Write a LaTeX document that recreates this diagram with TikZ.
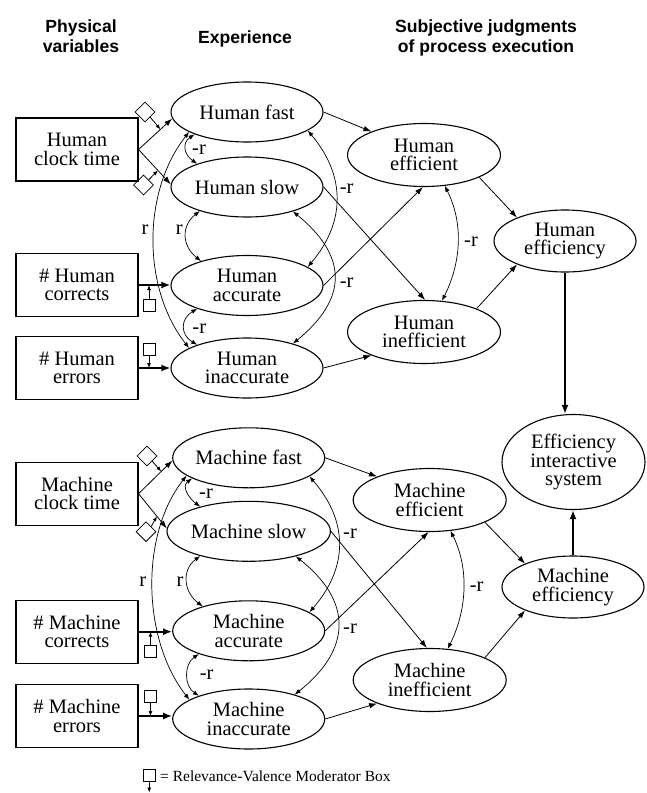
\documentclass[tikz,border=0pt]{standalone}
\usepackage{fontspec}
\setmainfont{Liberation Serif}
\newfontfamily\hdrfont{Liberation Sans}
\usetikzlibrary{shapes.geometric,arrows.meta,calc}
\tikzset{
 nf/.style={font=\fontsize{20.5}{18.5}\selectfont},
 ell/.style={draw, ellipse, line width=1.1pt, inner sep=0pt, align=center, nf},
 expn/.style={ell, minimum width=152pt, minimum height=60pt},
 subj/.style={ell, minimum width=153pt, minimum height=63pt},
 effn/.style={ell, minimum width=142pt, minimum height=62pt},
 pbox/.style={draw, rectangle, line width=1.1pt, minimum width=122pt, minimum height=63pt, align=center, nf, inner sep=0pt},
 hdr/.style={font=\hdrfont\bfseries\fontsize{17.6}{20}\selectfont, align=center, inner sep=0pt},
 arr/.style={-{Latex[length=8pt,width=5.5pt]}, line width=0.8pt},
 dbl/.style={{Latex[length=6pt,width=4.5pt]}-{Latex[length=6pt,width=4.5pt]}, line width=0.7pt},
 thk/.style={-{Latex[length=9pt,width=7pt]}, line width=2.4pt},
 lbl/.style={nf, inner sep=0pt},
 dmd/.style={draw, diamond, minimum size=20pt, inner sep=0pt, line width=0.8pt},
 sqm/.style={draw, rectangle, minimum size=12pt, inner sep=0pt, line width=0.8pt},
 sarr/.style={-{Latex[length=5pt,width=4pt]}, line width=0.8pt},
}
\begin{document}
\begin{tikzpicture}[x=1pt,y=1pt]
\useasboundingbox (0,0) rectangle (647,-793);
% headers
\node[hdr] (hd1) at (81,-36) {Physical\\variables};
\node[hdr] (hd2) at (245,-38.6) {Experience};
\node[hdr] (hd3) at (486,-37.6) {Subjective judgments\\of process execution};

% ---------- Human ----------
\node[pbox] (hct) at (77,-149.5) {Human\\clock time};
\node[pbox] (hcor) at (77,-285) {\# Human\\corrects};
\node[pbox] (herr) at (77,-368) {\# Human\\errors};
\node[expn] (hf) at (247,-112) {Human fast};
\node[expn] (hs) at (247,-187) {Human slow};
\node[expn] (hacc) at (247,-285.5) {Human\\accurate};
\node[expn] (hinacc) at (247,-368) {Human\\inaccurate};
\node[subj] (heff) at (424,-155) {Human\\efficient};
\node[subj] (hineff) at (424,-332) {Human\\inefficient};
\node[effn] (hefcy) at (565,-241) {Human\\efficiency};
\node[ell, minimum width=143pt, minimum height=95pt] (sys) at (573.5,-462) {Efficiency\\interactive\\system};

\draw[arr] (hct.east) -- coordinate[pos=0.65] (m1) (hf.185);
\draw[arr] (hct.east) -- coordinate[pos=0.6] (m2) (hs.178);
\node[dmd] (d1) at (145,-112) {};
\node[dmd] (d2) at (143.5,-185) {};
\draw[sarr] (d1.south east) -- (m1);
\draw[sarr] (d2.north east) -- (m2);
\draw[thk] (hcor.east) -- (hcor.east -| hacc.west);
\draw[thk] (herr.east) -- (herr.east -| hinacc.west);
\node[sqm] (s1) at (149,-305) {};
\node[sqm] (s2) at (149,-349) {};
\draw[sarr] (s1.north) -- (s1.north |- hcor.east);
\draw[sarr] (s2.south) -- (s2.south |- herr.east);

\draw[dbl] (hf.203) .. controls +(-13,-9) and +(-13,9) .. (hs.155);
\draw[dbl] (hs.207) .. controls +(-19,-15) and +(-19,15) .. (hacc.152);
\draw[dbl] (hacc.205) .. controls +(-17,-10) and +(-17,10) .. (hinacc.155);
\draw[dbl] (hf.199) .. controls +(-47,-60) and +(-47,60) .. (hinacc.161);
\draw[dbl] (hf.343) .. controls +(38,-45) and +(38,45) .. (hacc.17);
\draw[dbl] (hs.-28) .. controls +(55,-45) and +(55,45) .. (hinacc.28);
\draw[dbl] (heff.-56) .. controls +(19,-38) and +(19,38) .. (hineff.60);

\node[lbl] (l1) at (199,-150) {-r};
\node[lbl] (l2) at (179.3,-230) {r};
\node[lbl] (l3) at (145,-230) {r};
\node[lbl] (l4) at (199.3,-328.3) {-r};
\node[lbl] (l5) at (346.7,-188.3) {-r};
\node[lbl] (l6) at (346.7,-282.7) {-r};
\node[lbl] (l7) at (471,-241.7) {-r};

\draw[arr] (hf.east) -- (heff.156);
\draw[arr] (hs.east) -- (hineff.88);
\draw[arr] (hacc.east) -- (heff.268);
\draw[arr] (hinacc.east) -- (hineff.204);
\draw[arr] (heff.338) -- (hefcy.154);
\draw[arr] (hineff.24) -- (hefcy.206);
\draw[thk] (hefcy.south) -- (hefcy.south |- sys.north);

% ---------- Machine ----------
\node[pbox] (mct) at (77,-493.7) {Machine\\clock time};
\node[pbox] (mcor) at (77,-631.7) {\# Machine\\corrects};
\node[pbox] (merr) at (77,-716) {\# Machine\\errors};
\node[expn] (mf) at (248.7,-457.8) {Machine fast};
\node[expn] (ms) at (248.7,-531.3) {Machine slow};
\node[expn] (macc) at (248.7,-630.8) {Machine\\accurate};
\node[expn] (minacc) at (248.7,-719) {Machine\\inaccurate};
\node[subj] (meff) at (429.7,-500) {Machine\\efficient};
\node[subj] (mineff) at (429.7,-680) {Machine\\inefficient};
\node[effn] (mefcy) at (573,-587) {Machine\\efficiency};

\draw[arr] (mct.east) -- coordinate[pos=0.67] (m3) (mf.182);
\draw[arr] (mct.east) -- coordinate[pos=0.65] (m4) (ms.178);
\node[dmd] (d3) at (147,-456) {};
\node[dmd] (d4) at (146,-531.7) {};
\draw[sarr] (d3.south east) -- (m3);
\draw[sarr] (d4.north east) -- (m4);
\draw[thk] (mcor.east) -- (mcor.east -| macc.west);
\draw[thk] (merr.east) -- (merr.east -| minacc.west);
\node[sqm] (s3) at (150.5,-651.7) {};
\node[sqm] (s4) at (150.5,-696) {};
\draw[sarr] (s3.north) -- (s3.north |- mcor.east);
\draw[sarr] (s4.south) -- (s4.south |- merr.east);

\draw[dbl] (mf.200) .. controls +(-11,-8) and +(-11,8) .. (ms.153);
\draw[dbl] (ms.207) .. controls +(-19,-14) and +(-19,14) .. (macc.152);
\draw[dbl] (macc.205) .. controls +(-15,-10) and +(-15,10) .. (minacc.155);
\draw[dbl] (mf.196) .. controls +(-47,-60) and +(-47,60) .. (minacc.162);
\draw[dbl] (mf.343) .. controls +(39,-45) and +(39,45) .. (macc.17);
\draw[dbl] (ms.-28) .. controls +(57,-45) and +(57,45) .. (minacc.28);
\draw[dbl] (meff.-56) .. controls +(19,-38) and +(19,38) .. (mineff.60);

\node[lbl] (l8) at (206,-494) {-r};
\node[lbl] (l9) at (180,-581.7) {r};
\node[lbl] (l10) at (142.7,-581.7) {r};
\node[lbl] (l11) at (206.7,-675) {-r};
\node[lbl] (l12) at (350,-533.3) {-r};
\node[lbl] (l13) at (350,-628.3) {-r};
\node[lbl] (l14) at (476.7,-586.7) {-r};

\draw[arr] (mf.east) -- (meff.156);
\draw[arr] (ms.east) -- (mineff.95);
\draw[arr] (macc.east) -- (meff.268);
\draw[arr] (minacc.east) -- (mineff.204);
\draw[arr] (meff.338) -- (mefcy.154);
\draw[arr] (mineff.22) -- (mefcy.206);
\draw[thk] (mefcy.north) -- (mefcy.north |- sys.south);

% legend
\node[sqm] (lsq) at (149.2,-775.8) {};
\coordinate (ltip) at (149.2,-792.5);
\draw[sarr] (lsq.south) -- (ltip);
\node[anchor=base west, inner sep=0pt, font=\fontsize{15.5}{18}\selectfont] (ltx) at (160,-781) {= Relevance-Valence Moderator Box};
\end{tikzpicture}
\end{document}
